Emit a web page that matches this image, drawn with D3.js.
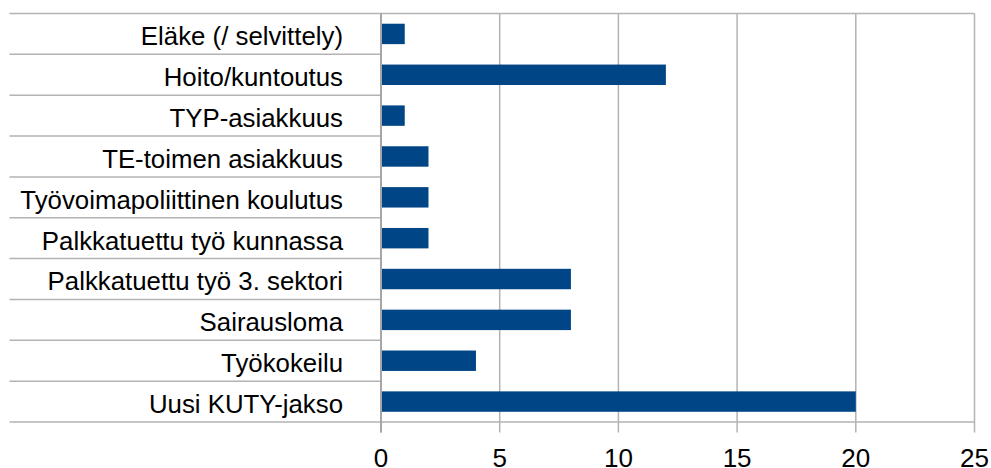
<!DOCTYPE html>
<html><head><meta charset="utf-8">
<script src="https://cdn.jsdelivr.net/npm/d3@7/dist/d3.min.js"></script>
<style>body{margin:0;background:#fff}svg{display:block}text{font-family:"Liberation Sans",Arial,sans-serif;fill:#000}</style>
</head><body><svg id="c" width="991" height="468"></svg>
<script>
const categories = ["Eläke (/ selvittely)","Hoito/kuntoutus","TYP-asiakkuus","TE-toimen asiakkuus","Työvoimapoliittinen koulutus","Palkkatuettu työ kunnassa","Palkkatuettu työ 3. sektori","Sairausloma","Työkokeilu","Uusi KUTY-jakso"];
const values = [1,12,1,2,2,2,8,8,4,20];
const xTicks = [0,5,10,15,20,25];

(function(){
const svg = d3.select("#c");
const pLeft = 381, pRight = 974.5, pTop = 13.5, pBottom = 422, outerLeft = 9.5;
const x = d3.scaleLinear().domain([0,25]).range([pLeft,pRight]);
const y = d3.scaleBand().domain(categories).range([pTop,pBottom]).paddingInner(0.5).paddingOuter(0.25);
const grid = "#b3b3b3";

svg.append("g").selectAll("line").data(xTicks).join("line")
  .attr("x1",d=>x(d)).attr("x2",d=>x(d)).attr("y1",pTop).attr("y2",pBottom+10.5)
  .attr("stroke",grid).attr("stroke-width",1.5);
[pTop,pBottom].forEach(yy=>svg.append("line").attr("x1",outerLeft).attr("x2",pRight).attr("y1",yy).attr("y2",yy).attr("stroke",grid).attr("stroke-width",1.5));
const step = (pBottom-pTop)/categories.length;
svg.append("g").selectAll("line").data(d3.range(1,categories.length)).join("line")
  .attr("x1",outerLeft).attr("x2",pLeft).attr("y1",i=>pTop+i*step).attr("y2",i=>pTop+i*step)
  .attr("stroke",grid).attr("stroke-width",1.5);
svg.append("line").attr("x1",pLeft).attr("x2",pLeft).attr("y1",pTop).attr("y2",pBottom+10.5).attr("stroke","#a6a6a6").attr("stroke-width",2);

svg.append("g").selectAll("rect").data(categories).join("rect")
  .attr("x",x(0)+1).attr("y",d=>y(d)).attr("height",y.bandwidth())
  .attr("width",(d,i)=>x(values[i])-x(0)-1).attr("fill","#004586");

svg.append("g").selectAll("text").data(categories).join("text")
  .attr("x",343).attr("y",d=>y(d)+y.bandwidth()/2).attr("dy","0.44em")
  .attr("text-anchor","end").style("font-size","25.8px").text(d=>d);

svg.append("g").selectAll("text").data(xTicks).join("text")
  .attr("x",d=>x(d)).attr("y",466.5).attr("text-anchor","middle")
  .style("font-size","26px").text(d=>d);
})();
</script></body></html>
